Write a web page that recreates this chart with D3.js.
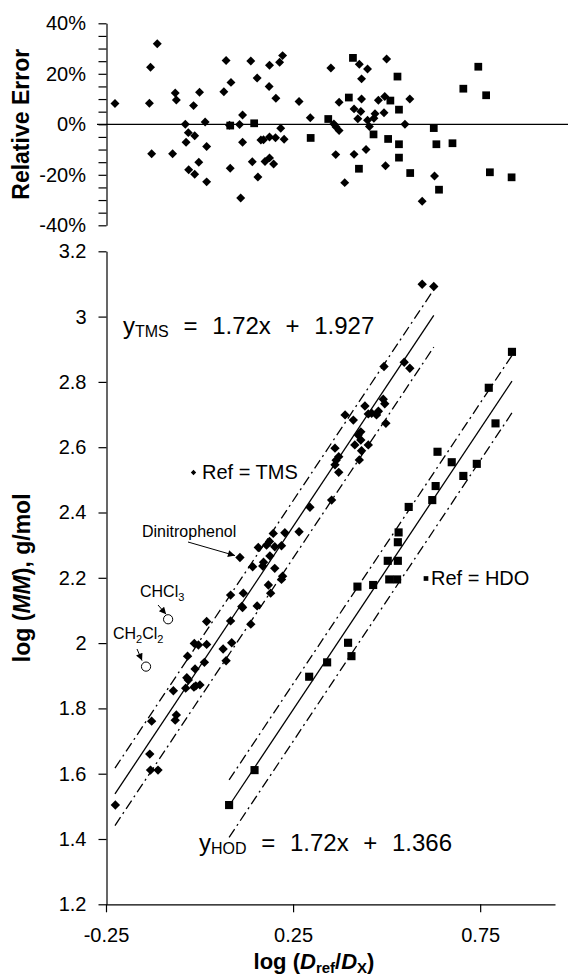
<!DOCTYPE html>
<html>
<head>
<meta charset="utf-8">
<script src="https://cdn.jsdelivr.net/npm/d3@7"></script>
<style>
  body { margin: 0; background: #fff; }
  text { font-family: "Liberation Sans", Arial, sans-serif; fill: #000; }
</style>
</head>
<body>
<svg id="chart" width="568" height="977"></svg>
<script>
// values
// bottom panel: log(Dref/Dx) vs log(MM)
const tmsX = [0.595, 0.626, 0.493, 0.547, 0.562, 0.491, 0.442, 0.389, 0.411, 0.451, 0.460, 0.473, 0.498,
  0.478, 0.495, 0.424, 0.431, 0.415, 0.451, 0.433, 0.431, 0.362, 0.372, 0.427, 0.365, 0.362, 0.372,
  0.353, 0.295, 0.266, 0.197, 0.228, 0.157, 0.179, 0.201, 0.219, 0.188, 0.187, 0.108, 0.142, 0.169,
  0.171, 0.201, 0.219, 0.222, 0.184, 0.190, 0.083, 0.117, 0.113, 0.115, 0.154, 0.137, 0.083, 0.019,
  -0.014, -0.003, 0.019, 0.086, 0.063, 0.071, -0.032, 0.013, -0.012, -0.034, -0.030, -0.010, 0.001,
  -0.015, -0.037, -0.070, -0.062, -0.065, -0.128, -0.225, -0.133, -0.131, -0.111];
const tmsY = [3.099, 3.092, 2.847, 2.860, 2.842, 2.747, 2.726, 2.699, 2.683, 2.702, 2.704, 2.699, 2.673,
  2.710, 2.733, 2.637, 2.622, 2.607, 2.607, 2.589, 2.647, 2.597, 2.571, 2.561, 2.560, 2.546, 2.523,
  2.438, 2.416, 2.341, 2.336, 2.338, 2.293, 2.300, 2.295, 2.298, 2.267, 2.311, 2.262, 2.234, 2.236,
  2.248, 2.229, 2.195, 2.205, 2.178, 2.153, 2.147, 2.153, 2.112, 2.109, 2.114, 2.058, 2.068, 2.066,
  1.999, 1.994, 1.996, 2.001, 1.982, 1.946, 1.960, 1.941, 1.921, 1.894, 1.887, 1.869, 1.872,
  1.865, 1.862, 1.854, 1.780, 1.764, 1.761, 1.504, 1.660, 1.611, 1.611];

const hdoX = [0.835, 0.773, 0.791, 0.636, 0.674, 0.741, 0.705, 0.631, 0.622, 0.559, 0.532, 0.530,
  0.503, 0.530, 0.507, 0.528, 0.422, 0.464, 0.397, 0.406, 0.341, 0.293, 0.147, 0.079];
const hdoY = [2.892, 2.782, 2.673, 2.586, 2.554, 2.549, 2.512, 2.481, 2.438, 2.417, 2.339, 2.309,
  2.252, 2.252, 2.195, 2.195, 2.173, 2.178, 2.001, 1.960, 1.941, 1.897, 1.611, 1.504];

// excluded solvents (open circles)
const outlierNames = ["CHCl3", "CH2Cl2"];
const outlierX = [-0.084, -0.143];
const outlierY = [2.073, 1.928];

// fits: log(MM) = slope * x + intercept, bands at +20% / -20% in MM
const fitSlope = 1.72;
const tmsIntercept = 1.927;
const hdoIntercept = 1.366;
const bandOffsets = [0.079, -0.097];
const tmsRange = [-0.226, 0.626];
const hdoRange = [0.079, 0.835];

// top panel: relative error (%)
const errTmsX = [-0.226, -0.131, -0.113, -0.134, -0.128, -0.072, -0.065, -0.062, -0.038, -0.036,
  -0.030, -0.029, -0.016, -0.013, -0.013, -0.002, 0.000, 0.015, 0.019, 0.019, 0.065, 0.071, 0.080,
  0.084, 0.082, 0.107, 0.115, 0.115, 0.110, 0.137, 0.141, 0.154, 0.156, 0.164, 0.171, 0.175, 0.187,
  0.186, 0.187, 0.187, 0.198, 0.203, 0.204, 0.214, 0.222, 0.217, 0.226, 0.266, 0.296, 0.351, 0.359,
  0.365, 0.373, 0.373, 0.364, 0.388, 0.413, 0.413, 0.423, 0.427, 0.431, 0.433, 0.433, 0.449, 0.449,
  0.454, 0.445, 0.469, 0.466, 0.478, 0.493, 0.495, 0.500, 0.497, 0.549, 0.562, 0.595, 0.628];
const errTmsY = [8.2, 22.6, 31.9, 8.3, -11.7, -11.7, 12.4, 9.6, 0, -7.1, -3.3, -18.0, 7.4, -4.5,
  -19.8, -15.0, 12.7, 0.9, -8.8, -22.8, 12.9, 25.3, -0.4, 16.6, -17.4, -0.1, 3.7, -7.1, -29.2, 25.1,
  -14.8, 18.3, -20.9, -6.2, -6.1, -14.7, 23.4, 15.0, -13.3, -5.0, -15.7, -5.3, 10.3, 24.6, 27.2,
  -1.6, -5.9, 9.0, 2.6, 22.3, 0.1, -1.1, 8.7, -2.5, -12.0, -23.1, 6.1, -11.9, 2.2, 23.8, 5.1, 18.0,
  10.0, 21.9, 1.6, -0.9, -10.0, 4.2, 2.4, 9.5, 4.6, 11.0, 25.9, -16.4, 0, 10.0, -30.5, -20.5];
const errHdoX = [0.082, 0.146, 0.297, 0.344, 0.399, 0.410, 0.426, 0.465, 0.504, 0.510, 0.529, 0.533,
  0.533, 0.533, 0.563, 0.626, 0.633, 0.640, 0.676, 0.705, 0.745, 0.766, 0.776, 0.834];
const errHdoY = [-0.5, 0.4, -5.4, 2.1, 10.6, 26.3, -17.6, -4.0, -5.8, 9.4, 18.9, 5.8, -7.9, -13.2,
  -19.3, -1.5, -7.9, -25.9, -7.5, 14.1, 22.8, 11.5, -19.0, -21.0];

// ticks
const xTicks = [-0.25, 0.25, 0.75];
const xTickLabels = ["-0.25", "0.25", "0.75"];
const yTicks = [1.2, 1.4, 1.6, 1.8, 2.0, 2.2, 2.4, 2.6, 2.8, 3.0, 3.2];
const yTickLabels = ["1.2", "1.4", "1.6", "1.8", "2", "2.2", "2.4", "2.6", "2.8", "3", "3.2"];
const errTicks = [-40, -35, -30, -25, -20, -15, -10, -5, 0, 5, 10, 15, 20, 25, 30, 35, 40];
const errLabelTicks = [40, 20, 0, -20, -40];
const errTickLabels = ["40%", "20%", "0%", "-20%", "-40%"];

const svg = d3.select("#chart");

const x = d3.scaleLinear().domain([-0.25, 0.95]).range([106, 555]);
const y = d3.scaleLinear().domain([1.2, 3.2]).range([904.3, 251.3]);
const yErr = d3.scaleLinear().domain([-40, 40]).range([225.3, 23.3]);

const zip = (xs, ys) => xs.map((v, i) => [v, ys[i]]);

svg.append("defs")
    .append("marker")
    .attr("id", "arrow")
    .attr("viewBox", "0 0 10 10")
    .attr("refX", 10)
    .attr("refY", 5)
    .attr("markerWidth", 9)
    .attr("markerHeight", 7)
    .attr("markerUnits", "userSpaceOnUse")
    .attr("orient", "auto")
    .append("path")
    .attr("d", "M0,0L10,5L0,10Z")
    .attr("fill", "#000");

function drawDiamonds(g, pts, sx, sy, size) {
    g.selectAll(null)
        .data(pts)
        .join("path")
        .attr("d", d3.symbol().type(d3.symbolSquare).size(size))
        .attr("transform", d => `translate(${sx(d[0])},${sy(d[1])}) rotate(45)`)
        .attr("fill", "#000");
}

function drawSquares(g, pts, sx, sy, size) {
    g.selectAll(null)
        .data(pts)
        .join("path")
        .attr("d", d3.symbol().type(d3.symbolSquare).size(size))
        .attr("transform", d => `translate(${sx(d[0])},${sy(d[1])})`)
        .attr("fill", "#000");
}

// ---------- top panel ----------
const errPanel = svg.append("g");

errPanel.append("g")
    .attr("transform", "translate(106.5,0)")
    .call(d3.axisLeft(yErr).tickValues(errTicks).tickSize(8).tickSizeOuter(0).tickFormat(""))
    .call(g => g.selectAll("path, line").attr("stroke", "#000").attr("stroke-width", 1.2));

errPanel.selectAll(".errlab")
    .data(errLabelTicks)
    .join("text")
    .attr("x", 86)
    .attr("y", d => yErr(d))
    .attr("dy", "0.35em")
    .attr("text-anchor", "end")
    .attr("font-size", 20)
    .text((d, i) => errTickLabels[i]);

errPanel.append("line")
    .attr("x1", 97).attr("x2", 568)
    .attr("y1", yErr(0)).attr("y2", yErr(0))
    .attr("stroke", "#000").attr("stroke-width", 1.2);

drawDiamonds(errPanel, zip(errTmsX, errTmsY), x, yErr, 40);
drawSquares(errPanel, zip(errHdoX, errHdoY), x, yErr, 60);

errPanel.append("text")
    .attr("transform", `translate(29,${yErr(0)}) rotate(-90)`)
    .attr("text-anchor", "middle")
    .attr("font-size", 23)
    .attr("font-weight", "bold")
    .text("Relative Error");

// ---------- bottom panel ----------
const bot = svg.append("g");

bot.append("g")
    .attr("transform", "translate(106.5,0)")
    .call(d3.axisLeft(y).tickValues(yTicks).tickSize(8).tickSizeOuter(0)
        .tickFormat((d, i) => yTickLabels[i]))
    .call(g => g.selectAll("path, line").attr("stroke", "#000").attr("stroke-width", 1.2))
    .call(g => g.selectAll("text").attr("font-size", 20).attr("x", -20)
        .attr("font-family", "Liberation Sans, Arial, sans-serif").attr("fill", "#000"));

bot.append("g")
    .attr("transform", `translate(0,${y(1.2)})`)
    .call(d3.axisBottom(x).tickValues(xTicks).tickSize(8).tickSizeOuter(0)
        .tickFormat((d, i) => xTickLabels[i]))
    .call(g => g.selectAll("path, line").attr("stroke", "#000").attr("stroke-width", 1.2))
    .call(g => g.selectAll("text").attr("font-size", 20).attr("y", 24)
        .attr("font-family", "Liberation Sans, Arial, sans-serif").attr("fill", "#000"));

// fit lines and prediction bands
function fitLine(intercept, range, offset, dash) {
    const line = d3.line()
        .x(d => x(d))
        .y(d => y(fitSlope * d + intercept + offset));
    bot.append("path")
        .attr("d", line(range))
        .attr("fill", "none")
        .attr("stroke", "#000")
        .attr("stroke-width", 1.3)
        .attr("stroke-dasharray", dash);
}

fitLine(tmsIntercept, tmsRange, 0, null);
fitLine(hdoIntercept, hdoRange, 0, null);
bandOffsets.forEach(o => {
    fitLine(tmsIntercept, tmsRange, o, "10,4,2,4");
    fitLine(hdoIntercept, hdoRange, o, "10,4,2,4");
});

drawDiamonds(bot, zip(tmsX, tmsY), x, y, 44);
drawSquares(bot, zip(hdoX, hdoY), x, y, 66);

bot.selectAll(".outlier")
    .data(zip(outlierX, outlierY))
    .join("circle")
    .attr("cx", d => x(d[0]))
    .attr("cy", d => y(d[1]))
    .attr("r", 4.6)
    .attr("fill", "#fff")
    .attr("stroke", "#000")
    .attr("stroke-width", 1);

// annotations
function arrow(x1, y1, x2, y2) {
    bot.append("line")
        .attr("x1", x1).attr("y1", y1)
        .attr("x2", x2).attr("y2", y2)
        .attr("stroke", "#000")
        .attr("stroke-width", 1)
        .attr("marker-end", "url(#arrow)");
}

bot.append("text")
    .attr("x", 142).attr("y", 537)
    .attr("font-size", 16)
    .text("Dinitrophenol");
arrow(188, 542, x(0.108) - 5, y(2.262) - 2);

const chcl3 = bot.append("text").attr("x", 140).attr("y", 597).attr("font-size", 16);
chcl3.append("tspan").text("CHCl");
chcl3.append("tspan").attr("font-size", 11).attr("dy", 4).text("3");
arrow(158, 605, x(outlierX[0]) - 2, y(outlierY[0]) - 5);

const ch2cl2 = bot.append("text").attr("x", 113).attr("y", 639).attr("font-size", 16);
ch2cl2.append("tspan").text("CH");
ch2cl2.append("tspan").attr("font-size", 11).attr("dy", 4).text("2");
ch2cl2.append("tspan").attr("dy", -4).text("Cl");
ch2cl2.append("tspan").attr("font-size", 11).attr("dy", 4).text("2");
arrow(137, 649, x(outlierX[1]) - 4, y(outlierY[1]) - 6);

// series labels
drawDiamonds(bot, [[0, 0]], v => 193.5, v => 472.5, 14);
bot.append("text").attr("x", 202).attr("y", 479).attr("font-size", 20).text("Ref = TMS");
drawSquares(bot, [[0, 0]], v => 426, v => 578.5, 22);
bot.append("text").attr("x", 431).attr("y", 585).attr("font-size", 20).text("Ref = HDO");

// equations
function equation(px, py, sub, rest) {
    const t = bot.append("text")
        .attr("x", px).attr("y", py)
        .attr("font-size", 24)
        .attr("word-spacing", 8);
    t.append("tspan").text("y");
    t.append("tspan").attr("font-size", 16).attr("dy", 3).text(sub);
    t.append("tspan").attr("dy", -3).text(" " + rest);
}
equation(123, 334, "TMS", "= 1.72x + 1.927");
equation(199, 851, "HOD", "= 1.72x + 1.366");

// axis titles
const yTitle = bot.append("text")
    .attr("transform", `translate(30,${y(2.2)}) rotate(-90)`)
    .attr("text-anchor", "middle")
    .attr("font-size", 23)
    .attr("font-weight", "bold");
yTitle.append("tspan").text("log (");
yTitle.append("tspan").attr("font-style", "italic").text("MM");
yTitle.append("tspan").text("), g/mol");

const xTitle = bot.append("text")
    .attr("x", 314).attr("y", 969)
    .attr("text-anchor", "middle")
    .attr("font-size", 22)
    .attr("font-weight", "bold");
xTitle.append("tspan").text("log (");
xTitle.append("tspan").attr("font-style", "italic").text("D");
xTitle.append("tspan").attr("font-size", 15).attr("dy", 4).text("ref");
xTitle.append("tspan").attr("dy", -4).text("/");
xTitle.append("tspan").attr("font-style", "italic").text("D");
xTitle.append("tspan").attr("font-size", 15).attr("dy", 4).text("X");
xTitle.append("tspan").attr("dy", -4).text(")");
</script>
</body>
</html>
